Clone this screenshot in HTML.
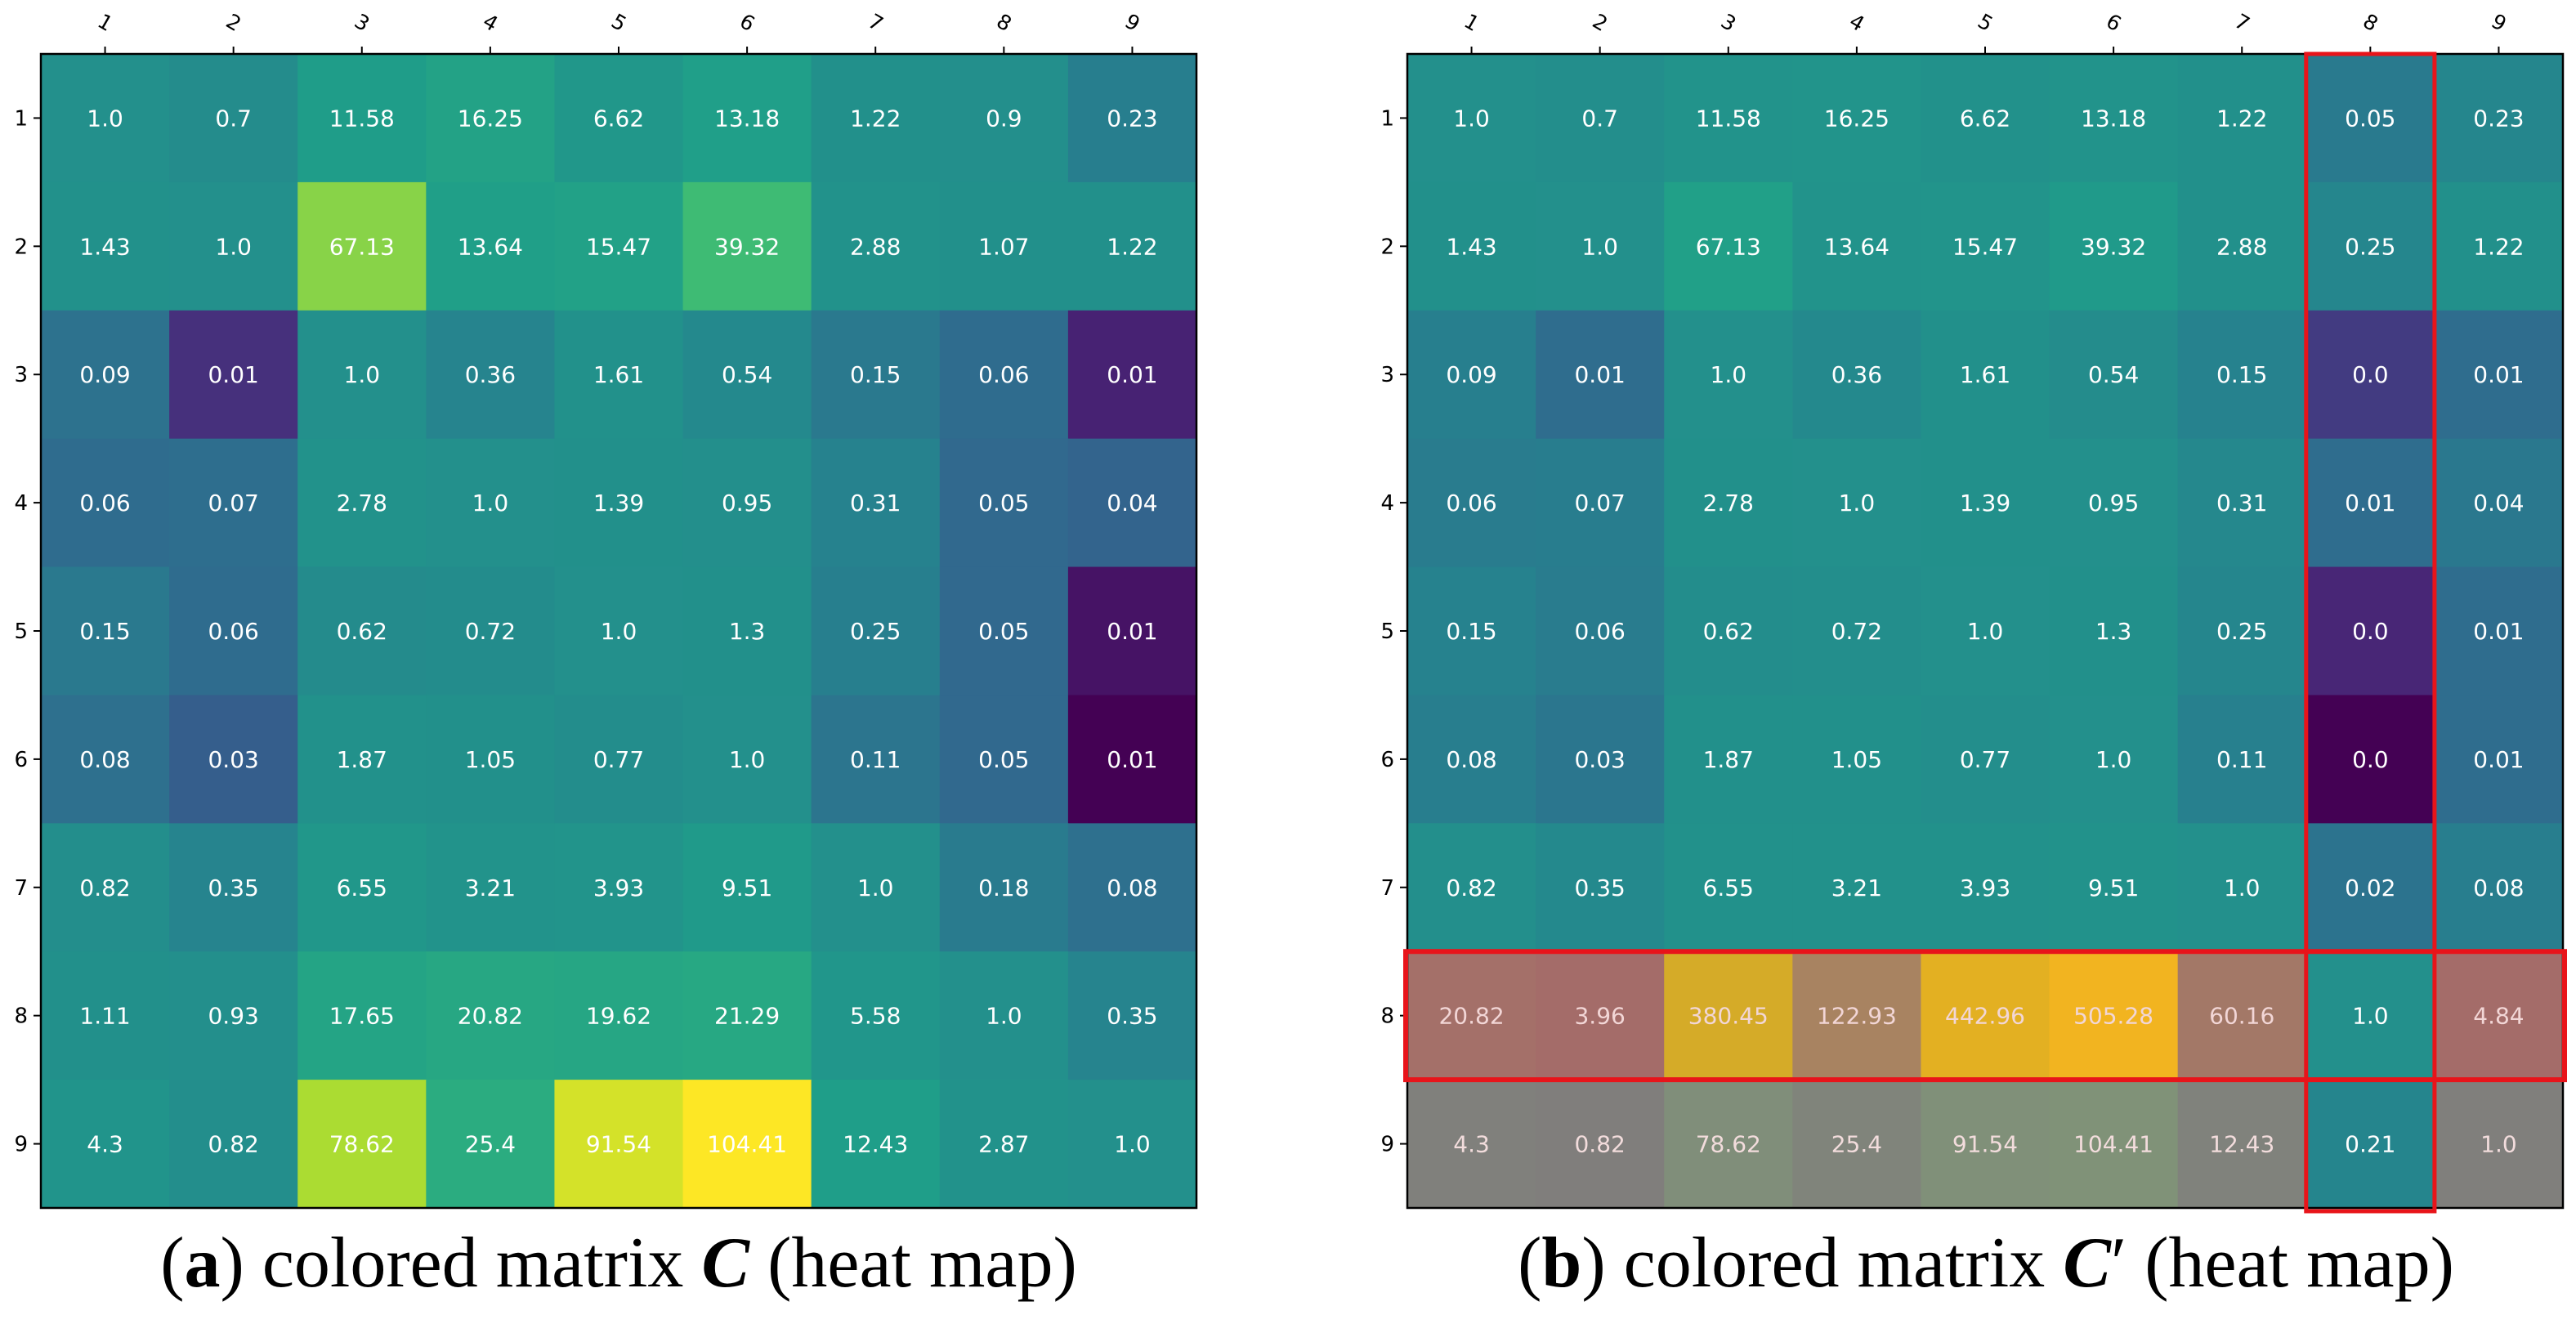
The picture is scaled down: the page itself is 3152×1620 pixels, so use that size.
<!DOCTYPE html>
<html><head><meta charset="utf-8"><style>
html,body{margin:0;padding:0;background:#fff}
svg{display:block}
</style></head><body>
<svg id="fig" width="3152" height="1620" viewBox="0 0 3152 1620" xmlns="http://www.w3.org/2000/svg">
<text x="757" y="1574" text-anchor="middle" font-family="Liberation Serif, serif" font-size="88">(<tspan font-weight="bold">a</tspan>) colored matrix <tspan font-style="italic" font-weight="bold">C</tspan> (heat map)</text>
<text x="2430" y="1574" text-anchor="middle" font-family="Liberation Serif, serif" font-size="88">(<tspan font-weight="bold">b</tspan>) colored matrix <tspan font-style="italic" font-weight="bold">C</tspan>′ (heat map)</text>
</svg>
<script>
const labels = ['1','2','3','4','5','6','7','8','9'];
// underlying values of matrix C (printed rounded to 2 decimals)
const matrixA = [
 [1.0,0.7,11.58,16.25,6.62,13.18,1.22,0.9,0.23],
 [1.43,1.0,67.13,13.64,15.47,39.32,2.88,1.07,1.22],
 [0.09,0.008,1.0,0.36,1.61,0.54,0.15,0.06,0.0068],
 [0.06,0.07,2.78,1.0,1.39,0.95,0.31,0.05,0.04],
 [0.15,0.06,0.62,0.72,1.0,1.3,0.25,0.05,0.0062],
 [0.08,0.03,1.87,1.05,0.77,1.0,0.11,0.05,0.006],
 [0.82,0.35,6.55,3.21,3.93,9.51,1.0,0.18,0.08],
 [1.11,0.93,17.65,20.82,19.62,21.29,5.58,1.0,0.35],
 [4.3,0.82,78.62,25.4,91.54,104.41,12.43,2.87,1.0]
];
// underlying values of matrix C'
const matrixB = [
 [1.0,0.7,11.58,16.25,6.62,13.18,1.22,0.05,0.23],
 [1.43,1.0,67.13,13.64,15.47,39.32,2.88,0.25,1.22],
 [0.09,0.01,1.0,0.36,1.61,0.54,0.15,0.0003,0.01],
 [0.06,0.07,2.78,1.0,1.39,0.95,0.31,0.01,0.04],
 [0.15,0.06,0.62,0.72,1.0,1.3,0.25,0.00015,0.01],
 [0.08,0.03,1.87,1.05,0.77,1.0,0.11,0.0001,0.01],
 [0.82,0.35,6.55,3.21,3.93,9.51,1.0,0.02,0.08],
 [20.82,3.96,380.45,122.93,442.96,505.28,60.16,1.0,4.84],
 [4.3,0.82,78.62,25.4,91.54,104.41,12.43,0.21,1.0]
];
const highlightRow = 8, highlightCol = 8;

const VIR=[[68,1,84],[72,40,120],[62,74,137],[49,104,142],[38,130,142],[31,158,137],[53,183,121],[109,205,89],[180,222,44],[253,231,37]];
function viridis(t){t=Math.max(0,Math.min(1,t));const p=t*(VIR.length-1),i=Math.min(VIR.length-2,Math.floor(p)),f=p-i;
 return VIR[i].map((c,k)=>c+(VIR[i+1][k]-c)*f);}
function rgb(c){return 'rgb('+c.map(x=>Math.round(Math.max(0,Math.min(255,x)))).join(',')+')';}
function fmt(v){let r=Math.round(v*100)/100;let s=String(r);if(!s.includes('.'))s+='.0';return s;}
function normA(v){if(v<=1){const L=Math.log10(0.006);const s=Math.max(0,(Math.log10(v)-L)/(-L));return 0.5*Math.pow(s,0.45);}return 0.5+0.5*(v-1)/(104.41-1);}
function normB(v){if(v<=1){const s=(Math.log10(v)+4)/4;return 0.5*Math.sqrt(Math.max(0,s));}return 0.5+0.5*(v-1)/(505.28-1);}
function tintRed(c){return [0.355*c[0]+152,0.83*c[1]-12,0.72*c[2]+5];}
function tintGray(c){return [128,0.78*c[1]+15,0.4*c[2]+68];}

const NS='http://www.w3.org/2000/svg';
const svg=document.getElementById('fig');
function el(tag,attrs,parent){const e=document.createElementNS(NS,tag);for(const k in attrs)e.setAttribute(k,attrs[k]);(parent||svg).appendChild(e);return e;}

function panel(x0,mat,norm,name,overlay){
 const y0=66,W=1414,H=1412,cw=W/9,ch=H/9;
 const g=el('g',{});
 
 
 mat.forEach((row,i)=>row.forEach((v,j)=>{
  let c=viridis(norm(v)),tc='#ffffff';
  if(overlay&&i===highlightRow-1&&j!==highlightCol-1){c=tintRed(c);tc='#f2d6d6';}
  if(overlay&&i===highlightRow&&j!==highlightCol-1){c=tintGray(c);tc='#f2dcdc';}
  const r=el('rect',{x:x0+j*cw,y:y0+i*ch,width:cw+0.6,height:ch+0.6,fill:rgb(c)},g);
  
  
  const t=el('text',{x:x0+(j+0.5)*cw,y:y0+(i+0.5)*ch+10,'text-anchor':'middle','font-family':'DejaVu Sans, sans-serif','font-size':28,fill:tc},g);
  t.textContent=fmt(v);
  
  
 }));
 el('rect',{x:x0,y:y0,width:W,height:H,fill:'none',stroke:'#000','stroke-width':2.5},g);
 labels.forEach((l,k)=>{
  const cx=x0+(k+0.5)*cw;
  el('line',{x1:cx,y1:y0,x2:cx,y2:y0-9,stroke:'#000','stroke-width':2},g);
  const t=el('text',{x:cx,y:36,'text-anchor':'middle','font-family':'DejaVu Sans, sans-serif','font-size':25,transform:'rotate(30 '+cx+' 28)'},g);
  t.textContent=l;
  
  
  const cy=y0+(k+0.5)*ch;
  el('line',{x1:x0,y1:cy,x2:x0-9,y2:cy,stroke:'#000','stroke-width':2},g);
  const ty=el('text',{x:x0-16,y:cy+9,'text-anchor':'end','font-family':'DejaVu Sans, sans-serif','font-size':26},g);
  ty.textContent=l;
  
  
 });
 if(overlay){
  const rr=el('rect',{x:x0-2,y:y0+(highlightRow-1)*ch,width:W+4,height:ch,fill:'none',stroke:'#e8141a','stroke-width':6},g);
  
  
  const rc=el('rect',{x:x0+(highlightCol-1)*cw,y:y0,width:cw,height:H+4,fill:'none',stroke:'#e8141a','stroke-width':5},g);
  
  
 }
}
panel(50,matrixA,normA,'heatmap-a',false);
panel(1722,matrixB,normB,'heatmap-b',true);
</script>
</body></html>
